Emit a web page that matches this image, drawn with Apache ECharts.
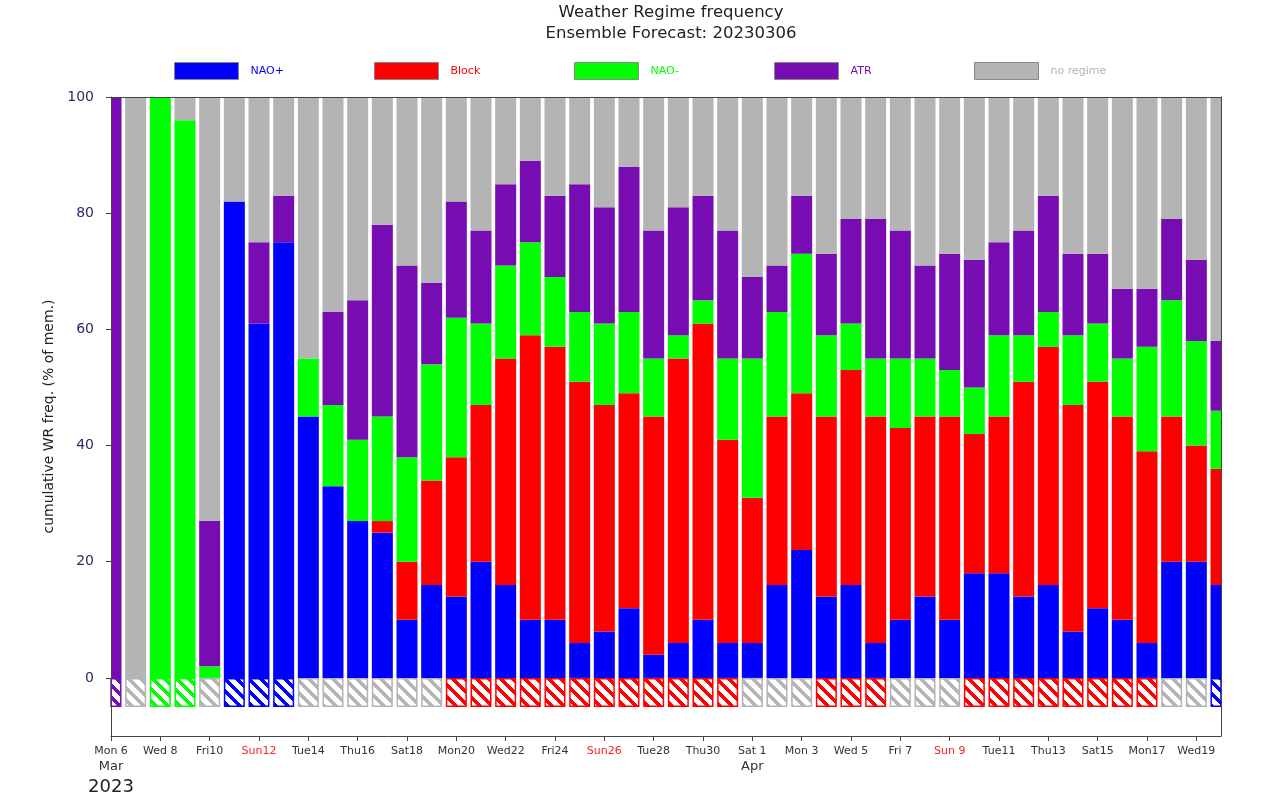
<!DOCTYPE html>
<html>
<head>
<meta charset="utf-8">
<script src="https://cdn.jsdelivr.net/npm/echarts@6/dist/echarts.min.js"></script>
<style>
html,body{margin:0;padding:0;background:#fff;}
#chart{width:1280px;height:796px;}
</style>
</head>
<body>
<div id="chart"></div>
<script>
// Day tick labels (Mon 6 Mar 2023 .. Thu 20 Apr 2023)
const days = ["Mon 6","Tue 7","Wed 8","Thu 9","Fri10","Sat11","Sun12","Mon13","Tue14","Wed15","Thu16","Fri17","Sat18","Sun19","Mon20","Tue21","Wed22","Thu23","Fri24","Sat25","Sun26","Mon27","Tue28","Wed29","Thu30","Fri31","Sat 1","Sun 2","Mon 3","Tue 4","Wed 5","Thu 6","Fri 7","Sat 8","Sun 9","Mon10","Tue11","Wed12","Thu13","Fri14","Sat15","Sun16","Mon17","Tue18","Wed19","Thu20"];
const monthLabels = {0: "Mar", 26: "Apr"};
const yearLabel = "2023";
const yTicks = [0, 20, 40, 60, 80, 100];

// Regime frequencies (% of members)
const naoPlus  = [0,0,0,0,0,82,61,75,45,33,27,25,10,16,14,20,16,10,10,6,8,12,4,6,10,6,6,16,22,14,16,6,10,14,10,18,18,14,16,8,12,10,6,20,20,16];
const block    = [0,0,0,0,0,0,0,0,0,0,0,2,10,18,24,27,39,49,47,45,39,37,41,49,51,35,25,29,27,31,37,39,33,31,35,24,27,37,41,39,39,35,33,25,20,20];
const naoMinus = [0,0,100,96,2,0,0,0,10,14,14,18,18,20,24,14,16,16,12,12,14,14,10,4,4,14,24,18,24,14,8,10,12,10,8,8,14,8,6,12,10,10,18,20,18,10];
const atr      = [100,0,0,0,25,0,14,8,0,16,24,33,33,14,20,16,14,14,14,22,20,25,22,22,18,22,14,8,10,14,18,24,22,16,20,22,16,18,20,14,12,12,10,14,14,12];
const noRegime = [0,100,0,4,73,18,25,17,45,37,35,22,29,32,18,23,15,11,17,15,19,12,23,19,17,23,31,29,17,27,21,21,23,29,27,28,25,23,17,27,27,33,33,21,28,42];
// Dominant regime per day (hatched row)
const dominant = ["ATR","none","NAO-","NAO-","none","NAO+","NAO+","NAO+","none","none","none","none","none","none","Block","Block","Block","Block","Block","Block","Block","Block","Block","Block","Block","Block","none","none","none","Block","Block","Block","none","none","none","Block","Block","Block","Block","Block","Block","Block","Block","none","none","NAO+"];
const dominantDepth = -5;

const colors = {"NAO+":"#0000ff","Block":"#ff0000","NAO-":"#00ff00","ATR":"#760cb2","none":"#b4b4b4"};
const regimeNames = ["NAO+","Block","NAO-","ATR","no regime"];
const regimeKeys = ["NAO+","Block","NAO-","ATR","none"];
const regimeData = [naoPlus, block, naoMinus, atr, noRegime];

const BAR_W = 21;

function makeHatch(color) {
  const N = 12, t = 5;
  const c = document.createElement('canvas');
  c.width = N; c.height = N;
  const g = c.getContext('2d');
  g.fillStyle = '#ffffff';
  g.fillRect(0, 0, N, N);
  g.fillStyle = color;
  for (let y = 0; y < N; y++) {
    for (let x = 0; x < N; x++) {
      if ((((x - y) % N) + N) % N < t) g.fillRect(x, y, 1, 1);
    }
  }
  return c;
}
const hatches = {};
Object.keys(colors).forEach(k => { hatches[k] = makeHatch(colors[k]); });

function clipTo(params, shape) {
  const cs = params.coordSys;
  return echarts.graphic.clipRectByRect(shape, {x: cs.x, y: cs.y, width: cs.width, height: cs.height});
}

function segRenderer(color) {
  return function (params, api) {
    const x = api.value(0), lo = api.value(1), hi = api.value(2);
    if (hi - lo <= 0) return null;
    const p0 = api.coord([x, lo]);
    const p1 = api.coord([x, hi]);
    const shape = clipTo(params, {x: p0[0] - BAR_W / 2, y: p1[1], width: BAR_W, height: p0[1] - p1[1]});
    if (!shape) return null;
    return {type: 'rect', shape: shape, style: {fill: color, stroke: null}};
  };
}

const series = [];
const base = days.map(() => 0);
regimeData.forEach((arr, i) => {
  const data = arr.map((v, k) => {
    const item = [k, base[k], base[k] + v];
    base[k] += v;
    return item;
  });
  series.push({
    name: regimeNames[i],
    type: 'custom',
    itemStyle: {color: colors[regimeKeys[i]]},
    encode: {x: 0, y: [1, 2]},
    renderItem: segRenderer(colors[regimeKeys[i]]),
    data: data,
    z: 2
  });
});

series.push({
  name: 'dominant',
  type: 'custom',
  encode: {x: 0, y: [1, 2]},
  data: dominant.map((d, k) => [k, dominantDepth, 0]),
  renderItem: function (params, api) {
    const x = api.value(0);
    const key = dominant[params.dataIndex];
    const p0 = api.coord([x, api.value(1)]);
    const p1 = api.coord([x, api.value(2)]);
    const full = {x: p0[0] - BAR_W / 2 + 0.75, y: p1[1] + 0.75, width: BAR_W - 1.5, height: p0[1] - p1[1] - 1.5};
    const shape = clipTo(params, full);
    if (!shape) return null;
    return {
      type: 'rect',
      shape: shape,
      style: {fill: {image: hatches[key], repeat: 'repeat'}, stroke: colors[key], lineWidth: 1.5}
    };
  },
  z: 2
});

const legendLeft = [174, 374, 574, 774, 974];
const legends = regimeNames.map((n, i) => ({
  data: [n],
  left: legendLeft[i],
  top: 62,
  padding: 0,
  itemWidth: 64,
  itemHeight: 17,
  icon: 'rect',
  selectedMode: false,
  itemStyle: {borderColor: '#888', borderWidth: 1},
  textStyle: {color: colors[regimeKeys[i]], fontSize: 11, fontFamily: 'DejaVu Sans', padding: [0, 0, 0, 7]}
}));

const axisColor = '#444';

const chart = echarts.init(document.getElementById('chart'));
chart.setOption({
  animation: false,
  title: {
    text: 'Weather Regime frequency\nEnsemble Forecast: 20230306',
    left: 666,
    textAlign: 'center',
    top: -3,
    textStyle: {fontSize: 16.5, fontWeight: 'normal', color: '#222', fontFamily: 'DejaVu Sans', lineHeight: 21}
  },
  legend: legends,
  grid: {left: 111, right: 59, top: 97, bottom: 60, containLabel: false},
  xAxis: [{
    type: 'category',
    data: days,
    boundaryGap: false,
    position: 'bottom',
    z: 10,
    axisLine: {show: true, onZero: false, lineStyle: {color: axisColor, width: 1}},
    axisTick: {show: true, interval: 1, length: 5, lineStyle: {color: axisColor}},
    axisLabel: {
      interval: 1,
      margin: 8,
      formatter: (value, index) => {
        let s = value.startsWith('Sun') ? '{s|' + value + '}' : '{d|' + value + '}';
        if (monthLabels[index]) s += '\n{m|' + monthLabels[index] + '}';
        if (index === 0) s += '\n{y|' + yearLabel + '}';
        return s;
      },
      rich: {
        d: {fontSize: 11, color: '#333', fontFamily: 'DejaVu Sans', lineHeight: 14},
        s: {fontSize: 11, color: '#ff2020', fontFamily: 'DejaVu Sans', lineHeight: 14},
        m: {fontSize: 13, color: '#333', fontFamily: 'DejaVu Sans', lineHeight: 18},
        y: {fontSize: 18, color: '#222', fontFamily: 'DejaVu Sans', lineHeight: 22}
      }
    },
    splitLine: {show: false}
  }, {
    type: 'category',
    data: days,
    boundaryGap: false,
    position: 'top',
    z: 10,
    axisLine: {show: true, onZero: false, lineStyle: {color: axisColor, width: 1}},
    axisTick: {show: false},
    axisLabel: {show: false},
    splitLine: {show: false}
  }],
  yAxis: [{
    type: 'value',
    min: -10,
    max: 100,
    position: 'left',
    z: 10,
    name: 'cumulative WR freq. (% of mem.)',
    nameLocation: 'middle',
    nameGap: 42,
    nameTextStyle: {fontSize: 14, color: '#222', fontFamily: 'DejaVu Sans'},
    axisLine: {show: true, onZero: false, lineStyle: {color: axisColor, width: 1}},
    axisTick: {show: true, length: 5, customValues: yTicks, lineStyle: {color: axisColor}},
    axisLabel: {customValues: yTicks, margin: 17, fontSize: 14, color: '#2a2a6a', fontFamily: 'DejaVu Sans'},
    splitLine: {show: false}
  }, {
    type: 'value',
    min: -10,
    max: 100,
    position: 'right',
    z: 10,
    axisLine: {show: true, onZero: false, lineStyle: {color: axisColor, width: 1}},
    axisTick: {show: false},
    axisLabel: {show: false},
    splitLine: {show: false}
  }],
  series: series
});
</script>
</body>
</html>
